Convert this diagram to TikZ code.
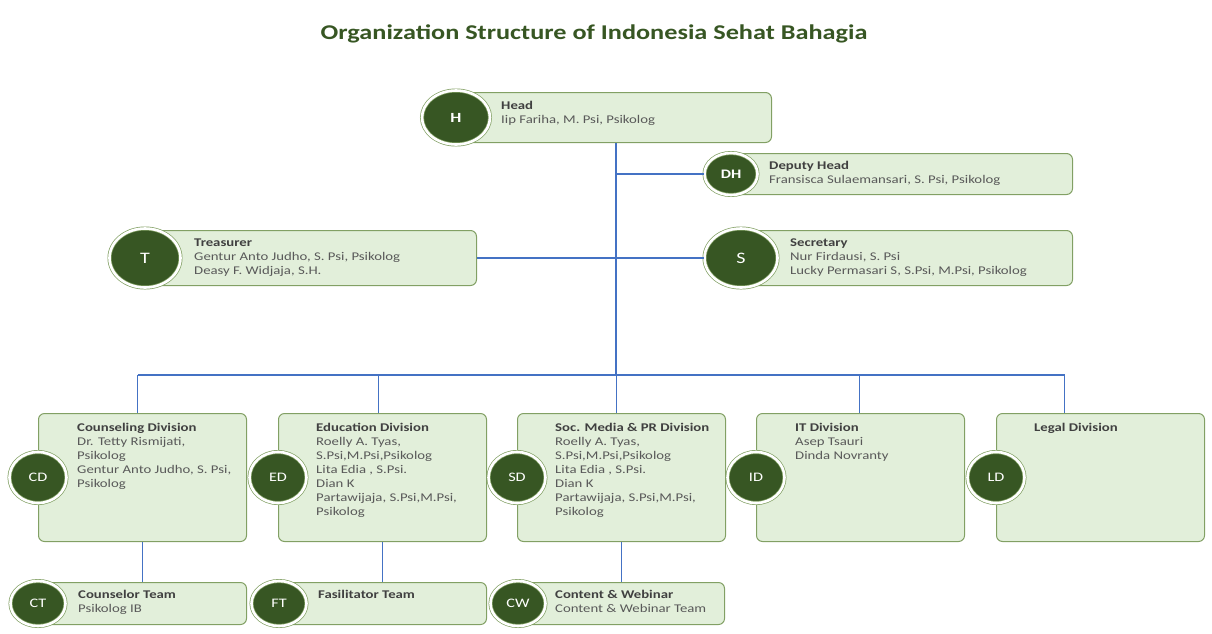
\documentclass[tikz,border=0pt]{standalone}
\usepackage{fontspec}
\setmainfont{Carlito}[FakeStretch=1.25]
\usetikzlibrary{shapes.geometric, positioning, calc}
\definecolor{leafgreen}{RGB}{226,239,218}
\definecolor{mossgreen}{RGB}{130,160,100}
\definecolor{forestgreen}{RGB}{55,86,35}
\definecolor{linkblue}{RGB}{68,114,196}
\definecolor{inkgray}{RGB}{89,89,89}
\definecolor{inkdark}{RGB}{64,64,64}
\tikzset{
  rolebox/.style={draw=mossgreen, fill=leafgreen, rounded corners=6pt, line width=1pt, anchor=north west, inner sep=0pt},
  badge/.style={ellipse, draw=mossgreen, line width=0.7pt, double=white, double distance=2.6pt, fill=forestgreen, text=white, inner sep=0pt, font=\fontsize{13}{13}\selectfont},
  roletext/.style={anchor=north west, align=left, inner sep=0pt, text=inkgray, font=\fontsize{11.8}{14}\selectfont},
  link/.style={draw=linkblue, line width=1.2pt},
}
\newcommand{\rolehead}[1]{\textcolor{inkdark}{\textbf{#1}}}

\begin{document}
\begin{tikzpicture}[x=1pt, y=-1pt]
  \useasboundingbox (0,0) rectangle (1212,633);
  \node[font=\bfseries\fontsize{21}{21}\selectfont, text=forestgreen] (title) at (594,34) {Organization Structure of Indonesia Sehat Bahagia};

  % board
  \node[rolebox, minimum width=315pt, minimum height=50pt] (Hbox) at (456,92) {};
  \node[badge, minimum width=68pt, minimum height=54pt, font=\bfseries\fontsize{14}{14}\selectfont] (Hbadge) at (Hbox.west) {H};
  \node[roletext] (Htext) at ($(Hbox.north west)+(45,9)$) {\rolehead{Head}\\Iip Fariha, M. Psi, Psikolog};

  \node[rolebox, minimum width=341pt, minimum height=41pt] (DHbox) at (731,153) {};
  \node[badge, minimum width=53pt, minimum height=42pt, font=\bfseries\fontsize{13}{13}\selectfont] (DHbadge) at (DHbox.west) {DH};
  \node[roletext] (DHtext) at ($(DHbox.north west)+(38,8)$) {\rolehead{Deputy Head}\\Fransisca Sulaemansari, S. Psi, Psikolog};

  \node[rolebox, minimum width=331pt, minimum height=55pt] (Tbox) at (145,230) {};
  \node[badge, minimum width=71pt, minimum height=59pt, font=\fontsize{16}{16}\selectfont] (Tbadge) at (Tbox.west) {T};
  \node[roletext] (Ttext) at ($(Tbox.north west)+(49,9)$) {\rolehead{Treasurer}\\Gentur Anto Judho, S. Psi, Psikolog\\Deasy F. Widjaja, S.H.};

  \node[rolebox, minimum width=331pt, minimum height=55pt] (Sbox) at (741,230) {};
  \node[badge, minimum width=73pt, minimum height=59pt, font=\fontsize{16}{16}\selectfont] (Sbadge) at (Sbox.west) {S};
  \node[roletext] (Stext) at ($(Sbox.north west)+(49,9)$) {\rolehead{Secretary}\\Nur Firdausi, S. Psi\\Lucky Permasari S, S.Psi, M.Psi, Psikolog};

  % divisions
  \node[rolebox, minimum width=208pt, minimum height=128pt] (CDbox) at (38,413) {};
  \node[badge, minimum width=57pt, minimum height=51pt] (CDbadge) at (CDbox.west) {CD};
  \node[roletext] (CDtext) at ($(CDbox.north west)+(39,10)$) {\rolehead{Counseling Division}\\Dr. Tetty Rismijati,\\Psikolog\\Gentur Anto Judho, S. Psi,\\Psikolog};

  \node[rolebox, minimum width=208pt, minimum height=128pt] (EDbox) at (278,413) {};
  \node[badge, minimum width=57pt, minimum height=51pt] (EDbadge) at (EDbox.west) {ED};
  \node[roletext] (EDtext) at ($(EDbox.north west)+(38,10)$) {\rolehead{Education Division}\\Roelly A. Tyas,\\S.Psi,M.Psi,Psikolog\\Lita Edia , S.Psi.\\Dian K\\Partawijaja, S.Psi,M.Psi,\\Psikolog};

  \node[rolebox, minimum width=208pt, minimum height=128pt] (SDbox) at (517,413) {};
  \node[badge, minimum width=57pt, minimum height=51pt] (SDbadge) at (SDbox.west) {SD};
  \node[roletext] (SDtext) at ($(SDbox.north west)+(38,10)$) {\rolehead{Soc. Media \& PR Division}\\Roelly A. Tyas,\\S.Psi,M.Psi,Psikolog\\Lita Edia , S.Psi.\\Dian K\\Partawijaja, S.Psi,M.Psi,\\Psikolog};

  \node[rolebox, minimum width=208pt, minimum height=128pt] (IDbox) at (756,413) {};
  \node[badge, minimum width=57pt, minimum height=51pt] (IDbadge) at (IDbox.west) {ID};
  \node[roletext] (IDtext) at ($(IDbox.north west)+(39,10)$) {\rolehead{IT Division}\\Asep Tsauri\\Dinda Novranty};

  \node[rolebox, minimum width=208pt, minimum height=128pt] (LDbox) at (996,413) {};
  \node[badge, minimum width=57pt, minimum height=51pt] (LDbadge) at (LDbox.west) {LD};
  \node[roletext] (LDtext) at ($(LDbox.north west)+(38,10)$) {\rolehead{Legal Division}};

  % teams
  \node[rolebox, minimum width=208pt, minimum height=42pt] (CTbox) at (38,582) {};
  \node[badge, minimum width=55pt, minimum height=45pt] (CTbadge) at (CTbox.west) {CT};
  \node[roletext] (CTtext) at ($(CTbox.north west)+(40,8)$) {\rolehead{Counselor Team}\\Psikolog IB};

  \node[rolebox, minimum width=207pt, minimum height=42pt] (FTbox) at (279,582) {};
  \node[badge, minimum width=55pt, minimum height=45pt] (FTbadge) at (FTbox.west) {FT};
  \node[roletext] (FTtext) at ($(FTbox.north west)+(39,8)$) {\rolehead{Fasilitator Team}};

  \node[rolebox, minimum width=206pt, minimum height=42pt] (CWbox) at (518,582) {};
  \node[badge, minimum width=55pt, minimum height=45pt] (CWbadge) at (CWbox.west) {CW};
  \node[roletext] (CWtext) at ($(CWbox.north west)+(37,8)$) {\rolehead{Content \& Webinar}\\Content \& Webinar Team};

  % connectors
  \coordinate (hub) at (616,375);
  \draw[link] (Hbox.south -| hub) -- (hub);
  \draw[link] (DHbadge.west -| hub) -- (DHbadge.west);
  \draw[link] (Tbox.east) -- (Sbadge.west);
  \draw[link] ($(CDbox.north |- hub)+(-5,0)$) -- ($(LDbox.north |- hub)+(-36,0)$);
  \foreach \d/\s in {CD/-5, ED/-4, SD/-5, ID/-1, LD/-36}
    \draw[link] ($(\d box.north |- hub)+(\s,0)$) -- ($(\d box.north)+(\s,0)$);
  \foreach \d/\t in {CD/CT, ED/FT, SD/CW}
    \draw[link] (\d box.south) -- (\d box.south |- \t box.north);
\end{tikzpicture}
\end{document}
